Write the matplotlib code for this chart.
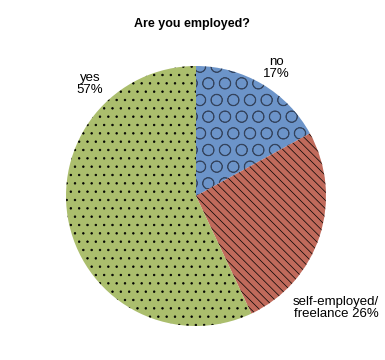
import matplotlib.pyplot as plt

plt.rcParams['font.family'] = ['Liberation Sans', 'DejaVu Sans']
plt.rcParams['hatch.linewidth'] = 0.5

labels = ['no\n17%', 'self-employed/\nfreelance 26%', 'yes\n57%']
values = [17, 26, 57]
colors = ['#6c94c9', '#c06a5b', '#abbe6d']
hatches = ['O', '\\\\\\\\', '..']
hatch_colors = ['#34445e', 'black', 'black']

fig = plt.figure(figsize=(3.85, 3.6), dpi=100)
ax = fig.add_axes([66 / 385, 34 / 360, 260 / 385, 260 / 360])

wedges, _ = ax.pie(values, colors=colors, startangle=90, counterclock=False,
                   radius=1, wedgeprops=dict(linewidth=0))
for w, h, hc in zip(wedges, hatches, hatch_colors):
    w.set_hatch(h)
    w.set_edgecolor(hc)

ax.set_xlim(-1, 1)
ax.set_ylim(-1, 1)
ax.set_aspect('equal')
ax.axis('off')

# label positions in figure pixels
fig.text(276 / 385, 1 - 68 / 360, labels[0], ha='center', va='center', fontsize=9.5, linespacing=1.1)
fig.text(336 / 385, 1 - 308 / 360, labels[1], ha='center', va='center', fontsize=9.5, linespacing=1.1)
fig.text(90 / 385, 1 - 84 / 360, labels[2], ha='center', va='center', fontsize=9.5, linespacing=1.1)
fig.text(192 / 385, 1 - 24 / 360, 'Are you employed?', ha='center', va='center',
         fontsize=9, fontweight='bold')

fig.savefig('out.png', dpi=100)
